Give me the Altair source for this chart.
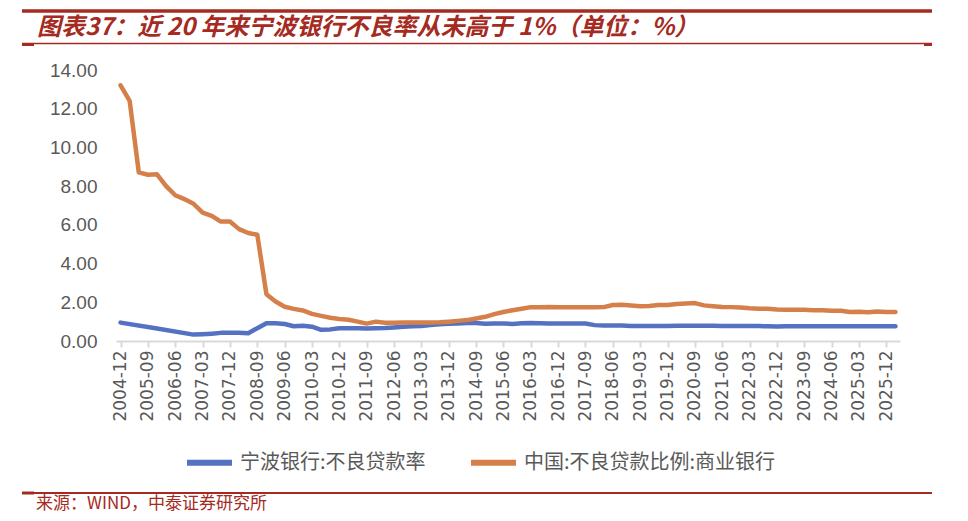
import altair as alt
import pandas as pd

# Quarter-end categories, 2004-12 .. 2026-03
quarters = ['2004-12'] + [f'{y}-{m}' for y in range(2005, 2026) for m in ('03', '06', '09', '12')] + ['2026-03']

# China commercial banks NPL ratio (%)
china_npl = [
    13.21,
    12.40, 8.71, 8.59, 8.61,
    8.00, 7.53, 7.33, 7.09,
    6.63, 6.46, 6.17, 6.17,
    5.78, 5.58, 5.49, 2.42,
    2.04, 1.77, 1.66, 1.58,
    1.40, 1.30, 1.20, 1.14,
    1.10, 1.00, 0.90, 1.00,
    0.94, 0.94, 0.95, 0.95,
    0.96, 0.96, 0.97, 1.00,
    1.04, 1.08, 1.16, 1.25,
    1.39, 1.50, 1.59, 1.67,
    1.75, 1.75, 1.76, 1.74,
    1.74, 1.74, 1.74, 1.74,
    1.75, 1.86, 1.87, 1.83,
    1.80, 1.81, 1.86, 1.86,
    1.91, 1.94, 1.96, 1.84,
    1.80, 1.76, 1.75, 1.73,
    1.69, 1.67, 1.66, 1.63,
    1.62, 1.62, 1.61, 1.59,
    1.59, 1.56, 1.56, 1.50,
    1.51, 1.49, 1.52, 1.50,
    1.50,
]

# Bank of Ningbo NPL ratio (%), gaps where the source has no value
ningbo_npl = [
    0.95,
    None, None, None, 0.65,
    None, None, None, 0.33,
    0.35, 0.38, 0.42, 0.43,
    0.42, 0.40, 0.66, 0.92,
    0.92, 0.88, 0.76, 0.79,
    0.74, 0.58, 0.60, 0.66,
    0.66, 0.66, 0.65, 0.66,
    0.67, 0.70, 0.73, 0.76,
    0.78, 0.82, 0.86, 0.89,
    0.90, 0.93, 0.93, 0.89,
    0.90, 0.90, 0.88, 0.92,
    0.93, 0.92, 0.91, 0.91,
    0.91, 0.91, 0.90, 0.82,
    0.80, 0.80, 0.80, 0.78,
    0.78, 0.78, 0.78, 0.78,
    0.79, 0.79, 0.79, 0.79,
    0.79, 0.78, 0.78, 0.77,
    0.77, 0.77, 0.76, 0.75,
    0.76, 0.76, 0.76, 0.76,
    0.76, 0.76, 0.76, 0.76,
    0.76, 0.76, 0.76, 0.76,
    0.76,
]

series_names = ['宁波银行:不良贷款率', '中国:不良贷款比例:商业银行']
series_colors = ['#5572C2', '#D5804A']
y_ticks = [0, 2, 4, 6, 8, 10, 12, 14]

title_text = '图表37：近 20 年来宁波银行不良率从未高于 1%（单位：%）'
source_text = '来源：WIND，中泰证券研究所'
red = '#A52A22'

df = pd.concat([
    pd.DataFrame({'quarter': quarters, 'value': ningbo_npl, 'series': series_names[0]}),
    pd.DataFrame({'quarter': quarters, 'value': china_npl, 'series': series_names[1]}),
]).dropna()

lines = alt.Chart(df).mark_line(strokeWidth=4.5, strokeCap='round', strokeJoin='round').encode(
    x=alt.X('quarter:O', sort=quarters,
            scale=alt.Scale(type='point', padding=0.5),
            axis=alt.Axis(title=None, values=quarters[0:85:3], labelAngle=270,
                          labelFont='DejaVu Sans', labelFontSize=17, labelColor='#595959',
                          labelPadding=3, domainColor='#D9D9D9', domainWidth=2,
                          tickColor='#D9D9D9', tickWidth=2, tickSize=6, grid=False)),
    y=alt.Y('value:Q', scale=alt.Scale(domain=[0, 14], nice=False),
            axis=alt.Axis(title=None, values=y_ticks, format='.2f', grid=False,
                          domain=False, ticks=False, labelFont='Liberation Sans',
                          labelFontSize=19, labelColor='#595959', labelPadding=19)),
    color=alt.Color('series:N', sort=series_names,
                    scale=alt.Scale(domain=series_names, range=series_colors),
                    legend=alt.Legend(title=None, orient='none', legendX=68, legendY=367,
                                      direction='horizontal', symbolType='stroke',
                                      symbolSize=2025, symbolStrokeWidth=6,
                                      labelFont='Noto Sans CJK SC', labelFontSize=20,
                                      labelColor='#595959', labelOffset=5, labelLimit=0,
                                      columnPadding=33, padding=0)),
)

# decoration: red bars around the title and above the source line
one = pd.DataFrame({'k': [0]})
deco = [
    alt.Chart(one).mark_rule(color=red, strokeWidth=3.5).encode(
        x=alt.value(-94), x2=alt.value(816), y=alt.value(-59)),
    alt.Chart(one).mark_rule(color=red, strokeWidth=1.5).encode(
        x=alt.value(-94), x2=alt.value(816), y=alt.value(-26.5)),
    alt.Chart(one).mark_rule(color=red, strokeWidth=3).encode(
        x=alt.value(-94), x2=alt.value(-82), y=alt.value(-25.5)),
    alt.Chart(one).mark_rule(color=red, strokeWidth=3).encode(
        x=alt.value(808), x2=alt.value(816), y=alt.value(-25.5)),
    alt.Chart(one).mark_rule(color=red, strokeWidth=2).encode(
        x=alt.value(-94), x2=alt.value(816), y=alt.value(423)),
    alt.Chart(one).mark_rule(color=red, strokeWidth=3).encode(
        x=alt.value(-94), x2=alt.value(-82), y=alt.value(423)),
]

title = alt.Chart(pd.DataFrame({'t': [title_text]})).mark_text(
    align='left', baseline='middle', font='Noto Sans CJK SC', fontSize=24,
    fontWeight='bold', fontStyle='italic', color=red
).encode(x=alt.value(-79), y=alt.value(-42), text='t:N')

source = alt.Chart(pd.DataFrame({'t': [source_text]})).mark_text(
    align='left', baseline='middle', font='Noto Sans CJK SC', fontSize=17, color=red
).encode(x=alt.value(-80), y=alt.value(434), text='t:N')

chart = alt.layer(lines, *deco, title, source).properties(
    width=784, height=271,
    autosize=alt.AutoSizeParams(type='none'),
    padding={'left': 108, 'top': 62, 'right': 48, 'bottom': 172},
).configure_view(stroke=None)

chart.save('out.html', embed_options={'renderer': 'svg', 'actions': False})
